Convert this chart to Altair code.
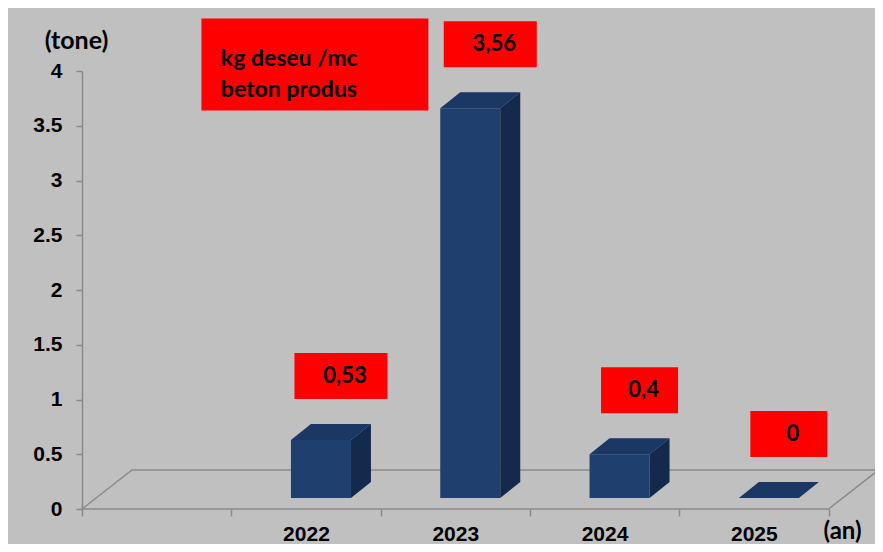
import json
import altair as alt
import pandas as pd

# ---- data ----
years = ["2022", "2023", "2024", "2025"]
values = [0.53, 3.56, 0.40, 0.0]
value_labels = ["0,53", "3,56", "0,4", "0"]
y_ticks = [0, 0.5, 1, 1.5, 2, 2.5, 3, 3.5, 4]
note_lines = ["kg deseu /mc", "beton produs"]
y_title = "(tone)"
x_title = "(an)"

# ---- layout constants (pixels per scale unit) ----
PX_CAT = 149.3      # one category slot
PX_UNIT = 109.5     # one tonne
X_MAX = 793 / PX_CAT
BASE = 11 / PX_UNIT
FRONT_OFF = -15 / PX_CAT
FRONT_W = 60 / PX_CAT
DX = 20 / PX_CAT
DY = 16 / PX_UNIT
FLOOR_DX = 50 / PX_CAT
FLOOR_DY = 39 / PX_UNIT

GRAY = "#8a8a8a"
FRONT = "#1F3F6E"
TOP = "#1B3763"
SIDE = "#142A4C"

xs = alt.Scale(domain=[0, X_MAX], nice=False, zero=False)
ys = alt.Scale(domain=[0, 4], nice=False, zero=False)

label_expr = ("datum.value % 1 == 0.5 ? " + json.dumps(years) +
              "[floor(datum.value) - 1] : ''")
x_axis = alt.Axis(
    values=[0, 1, 1.5, 2, 2.5, 3, 3.5, 4, 4.5, 5],
    labelExpr=label_expr, grid=False, domain=False,
    tickColor=GRAY, tickWidth=1.5, tickSize=7,
    tickOpacity={"condition": {"test": "datum.value % 1 == 0", "value": 1}, "value": 0},
    labelFont="Liberation Sans", labelFontWeight="bold", labelFontSize=21,
    labelColor="black", labelBaseline="middle", labelPadding=18,
    labelOverlap=False, labelFlush=False, labelBound=False,
    title=x_title, titleX=760, titleY=22, titleAlign="center",
    titleBaseline="middle", titleFont="Lato", titleFontSize=24,
    titleFontWeight="bold", titleColor="black",
)
y_axis = alt.Axis(
    values=y_ticks, format="~g", grid=False,
    domainColor=GRAY, domainWidth=1.5, tickColor=GRAY, tickWidth=1.5, tickSize=6,
    labelFont="Liberation Sans", labelFontWeight="bold", labelFontSize=21,
    labelColor="black", labelPadding=14,
    title=y_title, titleAngle=0, titleX=-6, titleY=-31, titleAlign="center",
    titleBaseline="middle", titleFont="Lato", titleFontSize=25,
    titleFontWeight="bold", titleColor="black",
)


def X(f):
    return alt.X(f"{f}:Q", scale=xs, axis=x_axis)


def Y(f):
    return alt.Y(f"{f}:Q", scale=ys, axis=y_axis)


# ---- derived tables ----
front_rows, top_rows, side_rows, box_rows = [], [], [], []
for i, (yr, v, lab) in enumerate(zip(years, values, value_labels)):
    c = i + 1.5
    x0 = c + FRONT_OFF
    x1 = x0 + FRONT_W
    top = BASE + v
    front_rows.append(dict(year=yr, x=x0, x2=x1, y=BASE, y2=top))
    top_rows.append(dict(year=yr, y=top, x=x0, x2=x1))
    top_rows.append(dict(year=yr, y=top + DY, x=x0 + DX, x2=x1 + DX))
    side_rows.append(dict(year=yr, x=x1, y=BASE, y2=top))
    side_rows.append(dict(year=yr, x=x1 + DX, y=BASE + DY, y2=top + DY))
    bw = (93 if len(lab) >= 4 else 77) / PX_CAT
    bc = c + 35 / PX_CAT
    bb = top + 41 / PX_UNIT
    box_rows.append(dict(label=lab, x=bc - bw / 2, x2=bc + bw / 2, y=bb,
                         y2=bb + 46 / PX_UNIT, tx=bc + 4 / PX_CAT,
                         ty=bb + 23 / PX_UNIT))

front_df = pd.DataFrame(front_rows)
top_df = pd.DataFrame(top_rows)
side_df = pd.DataFrame(side_rows)
box_df = pd.DataFrame(box_rows)

floor_df = pd.DataFrame({
    "x": [0, FLOOR_DX, 5 + FLOOR_DX, 5, 0],
    "y": [0, FLOOR_DY, FLOOR_DY, 0, 0],
    "o": [0, 1, 2, 3, 4],
})

note_box = pd.DataFrame({"x": [0.80], "x2": [2.32], "y": [3.64], "y2": [4.48]})
note_text = pd.DataFrame({"x": [0.93], "y": [4.11], "t": [note_lines]})

# ---- layers ----
floor = alt.Chart(floor_df).mark_line(color=GRAY, strokeWidth=1.5).encode(
    x=X("x"), y=Y("y"), order="o:Q")

front = alt.Chart(front_df).mark_rect(color=FRONT).encode(
    x=X("x"), x2="x2", y=Y("y"), y2="y2")

top_face = alt.Chart(top_df).mark_area(orient="horizontal", color=TOP).encode(
    y=Y("y"), x=X("x"), x2="x2", detail="year:N")

side_face = alt.Chart(side_df).mark_area(orient="vertical", color=SIDE).encode(
    x=X("x"), y=Y("y"), y2="y2", detail="year:N")

boxes = alt.Chart(box_df).mark_rect(color="#FF0000").encode(
    x=X("x"), x2="x2", y=Y("y"), y2="y2")

box_text = alt.Chart(box_df).mark_text(
    font="Lato", fontWeight="bold", fontSize=22, color="black",
    align="center", baseline="middle").encode(
    x=X("tx"), y=Y("ty"), text="label:N")

nbox = alt.Chart(note_box).mark_rect(color="#FF0000").encode(
    x=X("x"), x2="x2", y=Y("y"), y2="y2")

ntext = alt.Chart(note_text).mark_text(
    font="Lato", fontWeight="bold", fontSize=23, color="black",
    align="left", baseline="middle", lineHeight=31).encode(
    x=X("x"), y=Y("y"), text="t")

chart = alt.layer(floor, front, top_face, side_face, boxes, box_text, nbox, ntext).properties(
    width=793, height=438,
    autosize=alt.AutoSizeParams(type="none"),
    padding={"left": 74, "top": 63, "right": 0, "bottom": 35},
    background="#c0c0c0",
).configure_view(stroke="transparent")

chart.save("out.html", embed_options={"renderer": "svg", "actions": False})
